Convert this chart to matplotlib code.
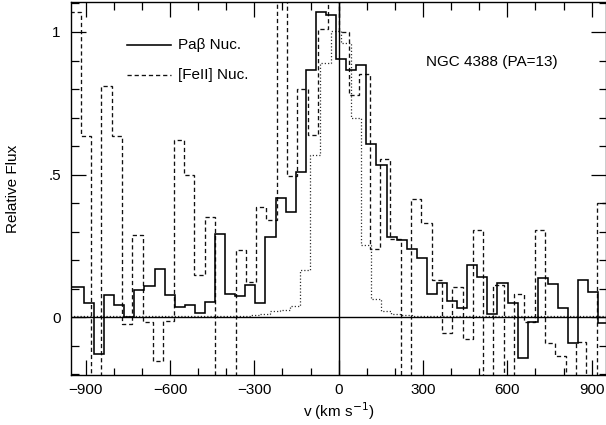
import numpy as np
import matplotlib
matplotlib.use("Agg")
import matplotlib.pyplot as plt
from matplotlib.ticker import MultipleLocator, FixedLocator, FixedFormatter

plt.rcParams['font.family'] = ['Liberation Sans', 'DejaVu Sans']
plt.rcParams['font.size'] = 11

OFF_HI = 1.5    # bins running off the top of the frame
OFF_LO = -0.5   # bins running off the bottom of the frame

# Pa beta nuclear spectrum: uniform velocity bins
pab_first_edge = -977.8   # km/s
pab_width = 35.87         # km/s
pab_flux = [0.105, 0.105, 0.05, -0.129, 0.078, 0.042, 0.0, 0.095, 0.11, 0.168,
            0.08, 0.036, 0.042, 0.014, 0.053, 0.293, 0.083, 0.075, 0.112, 0.049,
            0.281, 0.418, 0.368, 0.509, 0.868, 1.07, 1.06, 0.905, 0.865, 0.883,
            0.608, 0.535, 0.281, 0.271, 0.24, 0.207, 0.082, 0.121, 0.058, 0.034,
            0.183, 0.143, 0.012, 0.121, 0.051, -0.144, -0.018, 0.139, 0.118, 0.032,
            -0.09, 0.13, 0.089, -0.02]

# [FeII] nuclear spectrum
fe_first_edge = -954.2
fe_width = 36.7
fe_flux = [1.07, 0.636, OFF_LO, 0.81, 0.636, -0.024, 0.289, -0.018, -0.152, -0.012,
           0.62, 0.5, 0.148, 0.353, OFF_LO, OFF_LO, 0.236, 0.125, 0.386, 0.341,
           OFF_HI, 0.495, 0.8, 0.638, 1.01, OFF_HI, 1.0, 0.78, 0.854, 0.24,
           0.554, 0.274, OFF_LO, 0.414, 0.332, 0.131, -0.056, 0.105, -0.076, 0.306,
           OFF_LO, 0.115, OFF_LO, 0.082, -0.017, 0.306, -0.09, -0.136, OFF_LO, -0.085,
           OFF_LO, 0.4]

# dotted profile
dot_first_edge = -965.0
dot_width = 36.0
dot_flux = [0.005] * 17 + [0.006, 0.008, 0.012, 0.022, 0.025, 0.04, 0.166, 0.57,
            0.89, 1.005, 0.96, 0.698, 0.254, 0.065, 0.023, 0.012, 0.009] + [0.006] * 20

xticks_major = [-900, -600, -300, 0, 300, 600, 900]
yticks_major = [0, 0.5, 1]
ytick_labels = ['0', '.5', '1']


def edges(first, width, n):
    return first + width * np.arange(n + 1)


fig = plt.figure(figsize=(6.06, 4.25), dpi=100)
ax = fig.add_axes([70.5 / 606, 50 / 425, 535 / 606, 373 / 425])

ax.stairs(dot_flux, edges(dot_first_edge, dot_width, len(dot_flux)), baseline=None,
          color='#333333', lw=0.9, linestyle=(0, (1, 1.6)))
ax.stairs(fe_flux, edges(fe_first_edge, fe_width, len(fe_flux)), baseline=None,
          color='#111111', lw=0.95, linestyle=(0, (3.2, 2.2)))
ax.stairs(pab_flux, edges(pab_first_edge, pab_width, len(pab_flux)), baseline=None,
          color='black', lw=1.15)

ax.axhline(0, color='black', lw=1.0)
ax.axvline(0, color='black', lw=1.0)

ax.set_xlim(-954, 949)
ax.set_ylim(-0.202, 1.105)

ax.xaxis.set_major_locator(FixedLocator(xticks_major))
ax.xaxis.set_minor_locator(MultipleLocator(100))
ax.yaxis.set_major_locator(FixedLocator(yticks_major))
ax.yaxis.set_major_formatter(FixedFormatter(ytick_labels))
ax.yaxis.set_minor_locator(MultipleLocator(0.1))
ax.tick_params(which='both', direction='in', top=True, right=True, width=0.9)
ax.tick_params(which='major', length=10.8, pad=6)
ax.tick_params(which='minor', length=5.4)
ax.tick_params(axis='y', which='major', pad=7)
for s in ax.spines.values():
    s.set_linewidth(1.0)

ax.set_xlabel('v (km s$^{-1}$)')
ax.xaxis.set_label_coords(0.502, -0.068)
ax.set_ylabel('Relative Flux')
ax.yaxis.set_label_coords(-0.094, 0.5)

# legend drawn by hand
ax.plot([0.1065, 0.187], [0.885, 0.885], transform=ax.transAxes, color='black', lw=1.15)
ax.plot([0.1065, 0.187], [0.804, 0.804], transform=ax.transAxes, color='#111111',
        lw=0.95, linestyle=(0, (3.2, 2.2)))
ax.text(0.2, 0.885, 'Paβ Nuc.', transform=ax.transAxes, va='center', ha='left')
ax.text(0.2, 0.804, '[FeII] Nuc.', transform=ax.transAxes, va='center', ha='left')
ax.text(0.6636, 0.839, 'NGC 4388 (PA=13)', transform=ax.transAxes, va='center', ha='left')

fig.savefig('out.png', dpi=100)
